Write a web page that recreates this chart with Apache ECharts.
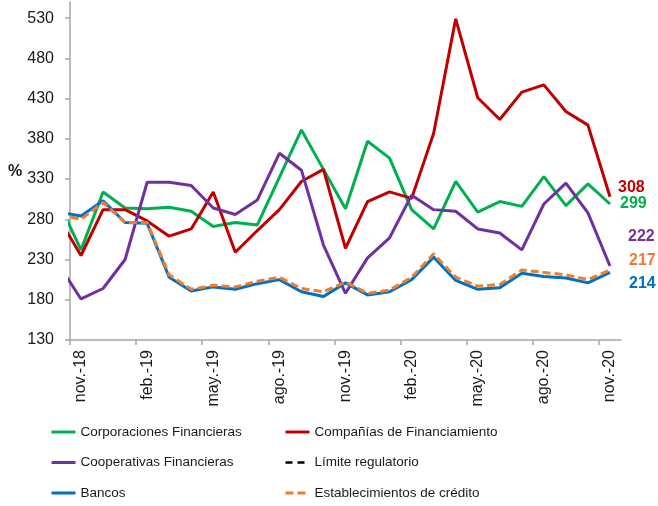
<!DOCTYPE html>
<html><head><meta charset="utf-8">
<script src="https://cdn.jsdelivr.net/npm/echarts@6/dist/echarts.min.js"></script>
<style>html,body{margin:0;padding:0;background:#fff}#c{width:658px;height:506px}</style>
</head><body><div id="c"></div>
<script>
// Months (oct.-18 lies just left of the axis start and is clipped, as in the reference)
const categories = ['oct.-18','nov.-18','dic.-18','ene.-19','feb.-19','mar.-19','abr.-19','may.-19','jun.-19','jul.-19','ago.-19','sep.-19','oct.-19','nov.-19','dic.-19','ene.-20','feb.-20','mar.-20','abr.-20','may.-20','jun.-20','jul.-20','ago.-20','sep.-20','oct.-20','nov.-20'];
const corporaciones   = [300, 242, 314, 294, 293, 295, 290, 271, 276, 273, 332, 391, 342, 293, 377, 356, 292, 268, 327, 289, 302, 296, 333, 297, 324, 299];
const companias       = [281, 235, 292, 292, 278, 259, 268, 314, 239, 266, 292, 327, 342, 244, 302, 314, 306, 387, 529, 431, 404, 438, 447, 414, 397, 308];
const cooperativas    = [223, 181, 194, 230, 326, 326, 322, 294, 286, 304, 362, 341, 248, 188, 232, 257, 310, 292, 290, 268, 263, 242, 299, 325, 288, 222];
const limite          = [100, 100, 100, 100, 100, 100, 100, 100, 100, 100, 100, 100, 100, 100, 100, 100, 100, 100, 100, 100, 100, 100, 100, 100, 100, 100];
const bancos          = [289, 284, 303, 276, 275, 208, 191, 196, 193, 200, 205, 190, 184, 201, 186, 190, 205, 233, 204, 193, 195, 213, 209, 207, 201, 214];
const establecimientos= [286, 280, 301, 276, 276, 211, 193, 198, 196, 203, 208, 194, 190, 202, 188, 192, 208, 237, 208, 197, 199, 217, 214, 211, 205, 217];
const yTicks = [130, 180, 230, 280, 330, 380, 430, 480, 530];
const labelEvery = 3;

// Category index -> position on the x scale (category centers at i - 0.5)
const pos = i => i - 0.5;
const xTicks = [], xLabelVals = [];
for (let i = 1; i < categories.length; i += labelEvery) { xTicks.push(pos(i) - 0.5); xLabelVals.push(pos(i)); }
const toPairs = arr => arr.map((v, i) => [pos(i), v]);

const FONT = '"Liberation Sans", Arial, sans-serif';
const AX = '#a6a6a6';

function mk(name, arr, color, opts) {
  opts = opts || {};
  const s = {
    name, type: 'line', data: toPairs(arr), symbol: 'none', showSymbol: false,
    clip: true, animation: false,
    lineStyle: { color, width: opts.width || 3, type: opts.dash || 'solid' },
    itemStyle: { color },
    z: opts.z || 2
  };
  if (opts.end) {
    s.endLabel = { show: true, formatter: p => String(p.value[1]), offset: opts.end, color,
      fontWeight: 'bold', fontSize: 16, fontFamily: FONT, distance: 8 };
  }
  return s;
}

const legendBase = {
  top: 424, orient: 'vertical', itemWidth: 24, itemHeight: 14, itemGap: 14.5, selectedMode: false,
  padding: 0, height: 90,
  itemStyle: { opacity: 0 }, lineStyle: { width: 'inherit' },
  textStyle: { fontFamily: FONT, fontSize: 13.5, color: '#1a1a1a', lineHeight: 16 }
};

const chart = echarts.init(document.getElementById('c'), null, { renderer: 'canvas' });
chart.setOption({
  animation: false,
  backgroundColor: '#fff',
  grid: { left: 70, right: 37, top: 2, bottom: 166, containLabel: false },
  xAxis: {
    type: 'value', min: 0, max: categories.length - 1,
    axisLine: { show: true, onZero: false, lineStyle: { color: AX, width: 1.5 } },
    axisTick: { show: true, customValues: xTicks, length: 5, lineStyle: { color: AX, width: 1.5 } },
    axisLabel: { customValues: xLabelVals, rotate: 90, margin: 10, fontSize: 16, color: '#1a1a1a', fontFamily: FONT,
      formatter: v => categories[Math.round(v + 0.5)] || '' },
    splitLine: { show: false }
  },
  yAxis: {
    type: 'value', min: 130, max: 550,
    axisLine: { show: true, onZero: false, lineStyle: { color: AX, width: 1.5 } },
    axisTick: { show: true, customValues: yTicks, length: 5, lineStyle: { color: AX, width: 1.5 } },
    axisLabel: { customValues: yTicks, margin: 16, fontSize: 16, color: '#1a1a1a', fontFamily: FONT },
    splitLine: { show: false }
  },
  graphic: [{ type: 'text', left: 8, top: 164, style: { text: '%', fontSize: 16, fontWeight: 'bold', fontFamily: FONT, fill: '#1a1a1a' } }],
  legend: [
    Object.assign({}, legendBase, { left: 50, data: ['Corporaciones Financieras', 'Cooperativas Financieras', 'Bancos'] }),
    Object.assign({}, legendBase, { left: 284, data: ['Compañías de Financiamiento', 'Límite regulatorio', 'Establecimientos de crédito'] })
  ],
  series: [
    mk('Corporaciones Financieras', corporaciones, '#00b050', { end: [2, 0] }),
    mk('Compañías de Financiamiento', companias, '#c00000', { end: [0, -9] }),
    mk('Cooperativas Financieras', cooperativas, '#7030a0', { end: [10, -29] }),
    mk('Límite regulatorio', limite, '#000000', { dash: [7, 5], width: 2.5 }),
    mk('Bancos', bancos, '#0070c0', { end: [11, 11] }),
    mk('Establecimientos de crédito', establecimientos, '#ed7d31', { dash: [8, 4], end: [11, -9] })
  ]
});
</script></body></html>
